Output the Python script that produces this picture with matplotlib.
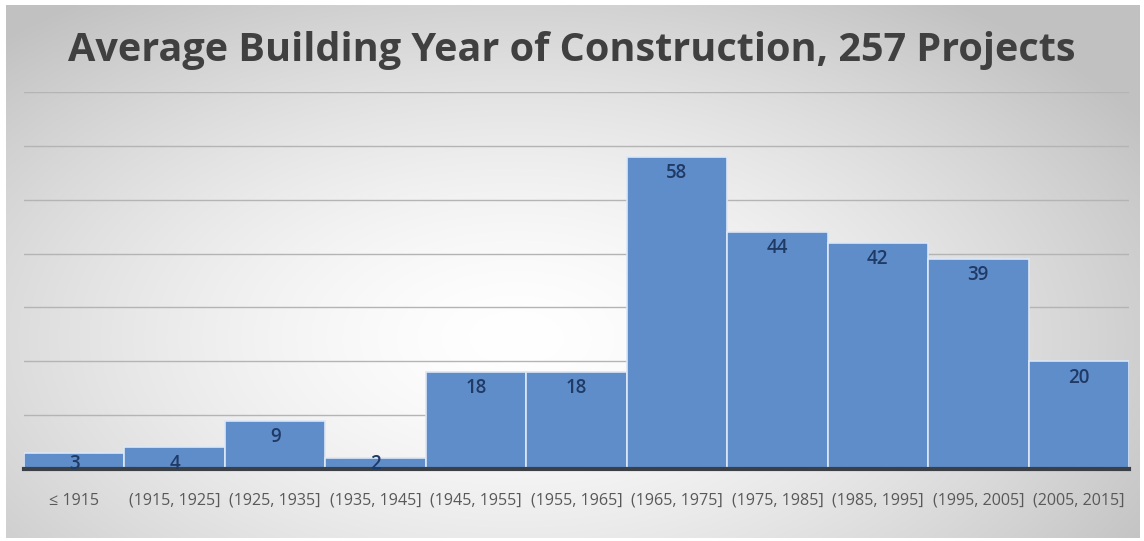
import numpy as np
import matplotlib
matplotlib.use("Agg")
import matplotlib.pyplot as plt

categories = ["≤ 1915", "(1915, 1925]", "(1925, 1935]", "(1935, 1945]", "(1945, 1955]",
              "(1955, 1965]", "(1965, 1975]", "(1975, 1985]", "(1985, 1995]",
              "(1995, 2005]", "(2005, 2015]"]
counts = [3, 4, 9, 2, 18, 18, 58, 44, 42, 39, 20]
title = "Average Building Year of Construction, 257 Projects"

W, H = 1144, 541
fig = plt.figure(figsize=(W / 100, H / 100), dpi=100)
fig.patch.set_facecolor("white")

# background radial gradient
bg = fig.add_axes([6 / W, 3 / H, 1134 / W, 533 / H])
yy, xx = np.mgrid[-1:1:300j, -1:1:600j]
r = np.sqrt(((xx + 0.1) / 1.0) ** 2 + ((yy - 0.25) / 1.2) ** 2)
val = 1.0 - 0.24 * np.clip(r / 1.3, 0, 1) ** 1.5
img = np.dstack([val, val, val])
bg.imshow(img, aspect="auto", extent=[0, 1, 0, 1], interpolation="bilinear")
bg.set_axis_off()

ax = fig.add_axes([24 / W, (H - 469) / H, (1129 - 24) / W, (469 - 92) / H])
ax.patch.set_alpha(0)
x = np.arange(len(categories))
bars = ax.bar(x, counts, width=1.0, color="#5f8dc9", edgecolor="#dce8f6", linewidth=1.2, zorder=3)
ax.set_xlim(-0.5, len(categories) - 0.5)
ax.set_ylim(0, 70)
ax.set_yticks(np.arange(10, 71, 10))
ax.yaxis.grid(True, color="#b4b4b4", linewidth=1.0, zorder=0)
ax.tick_params(axis="y", left=False, labelleft=False)
for s in ["top", "right", "left"]:
    ax.spines[s].set_visible(False)
ax.spines["bottom"].set_color("#3a4046")
ax.spines["bottom"].set_linewidth(3)
ax.spines["bottom"].set_zorder(5)
ax.set_xticks(x)
ax.set_xticklabels(categories, fontsize=11.6, color="#595959", family="Open Sans")
ax.tick_params(axis="x", length=0, pad=17)

for xi, c in zip(x, counts):
    ax.annotate(str(c), (xi, max(c, 4)), xytext=(0, -4.5), textcoords="offset points",
                ha="center", va="top", fontsize=13.5, fontweight="semibold",
                color="#203a66", family="Open Sans", zorder=6)

fig.text(0.5, 1 - 50 / H, title, ha="center", va="center", fontsize=28.5,
         fontweight="bold", color="#404040", family="Open Sans")

fig.savefig("out.png", dpi=100)
